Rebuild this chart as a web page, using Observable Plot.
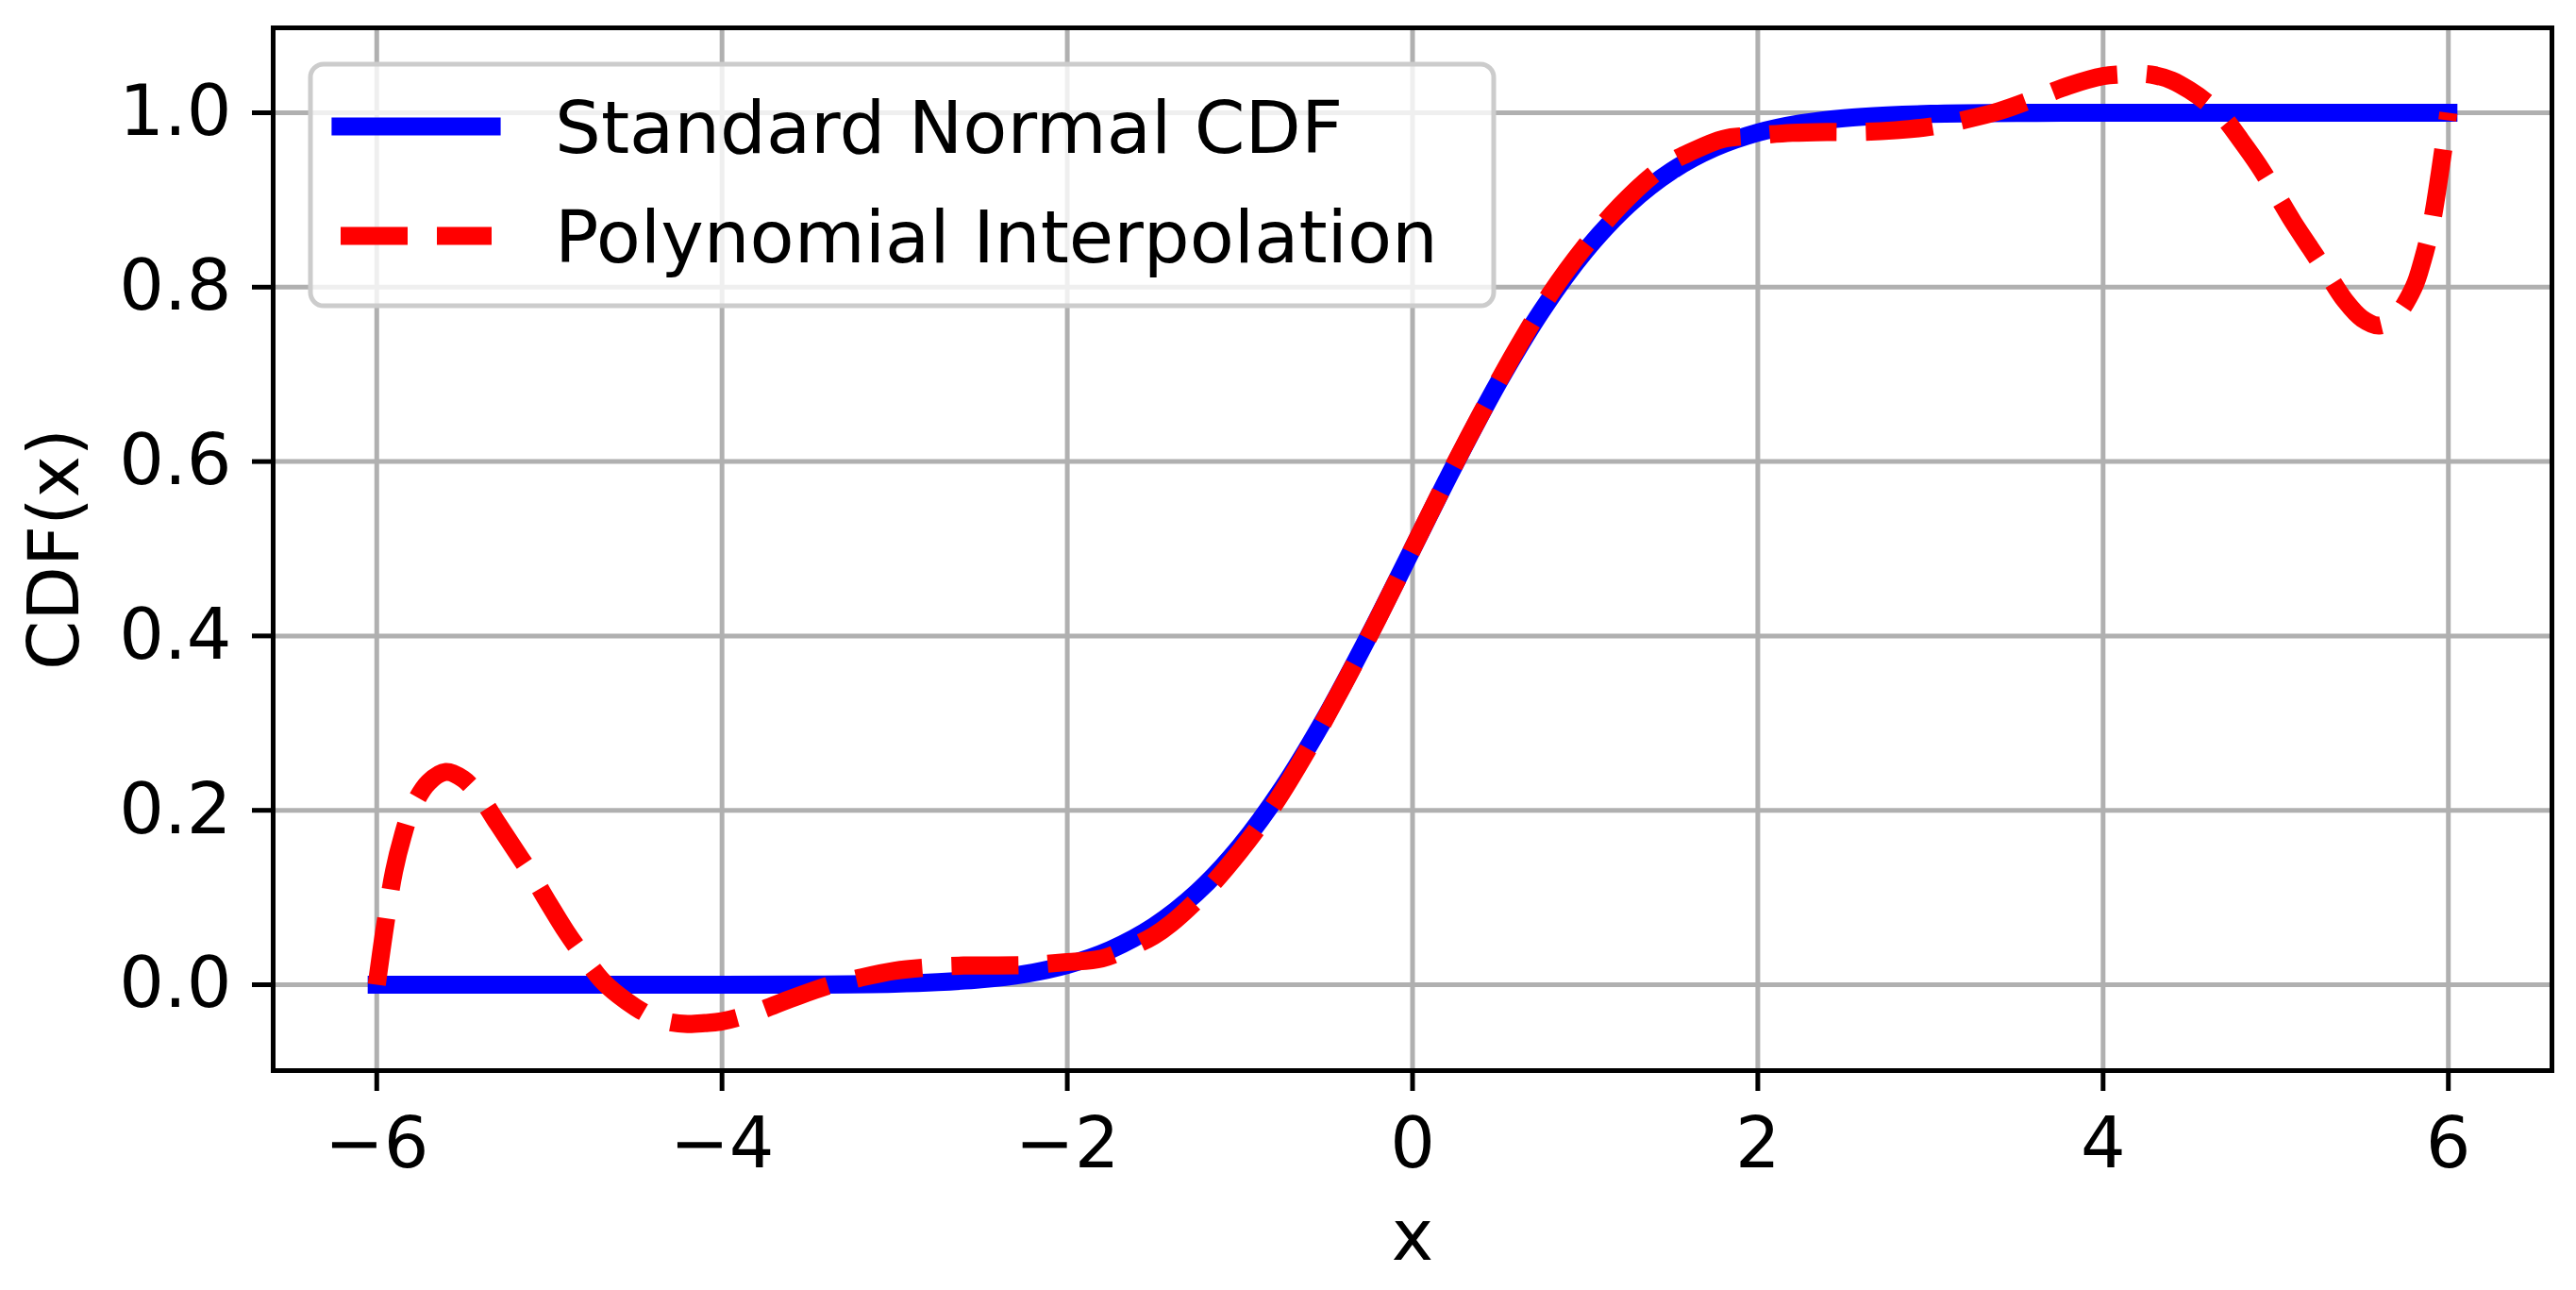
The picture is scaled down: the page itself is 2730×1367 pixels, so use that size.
<!DOCTYPE html>
<html><head><meta charset="utf-8">
<script src="https://cdn.jsdelivr.net/npm/d3@7"></script>
<script src="https://cdn.jsdelivr.net/npm/@observablehq/plot@0.6"></script>
<style>
html,body{margin:0;padding:0;background:#fff;}
#wrap{position:relative;width:2730px;height:1367px;}
#wrap svg{display:block;}
</style></head><body><div id="wrap"></div>
<script>
// Standard normal CDF
const cdfX = [-6, -5.5, -5, -4.5, -4, -3.5, -3, -2.75, -2.5, -2.25, -2, -1.75, -1.5, -1.25, -1, -0.75, -0.5, -0.25, 0, 0.25, 0.5, 0.75, 1, 1.25, 1.5, 1.75, 2, 2.25, 2.5, 2.75, 3, 3.5, 4, 4.5, 5, 5.5, 6];
const cdfY = [0, 0, 0, 0, 0, 0.0002, 0.0013, 0.003, 0.0062, 0.0122, 0.0228, 0.0401, 0.0668, 0.1056, 0.1587, 0.2266, 0.3085, 0.4013, 0.5, 0.5987, 0.6915, 0.7734, 0.8413, 0.8944, 0.9332, 0.9599, 0.9772, 0.9878, 0.9938, 0.997, 0.9987, 0.9998, 1, 1, 1, 1, 1];

// Polynomial interpolation
const polyX = [-6, -5.95, -5.9, -5.85, -5.8, -5.7, -5.6, -5.5, -5.4, -5.3, -5.2, -5.1, -5.0, -4.9, -4.8, -4.7, -4.6, -4.5, -4.4, -4.3, -4.2, -4.1, -4.0, -3.8, -3.6, -3.4, -3.2, -3.0, -2.8, -2.6, -2.4, -2.2, -2.0, -1.8, -1.6, -1.5, -1.4, -1.2, -1.0, -0.8, -0.6, -0.4, -0.2, 0, 0.2, 0.4, 0.6, 0.8, 1.0, 1.2, 1.4, 1.5, 1.6, 1.8, 2.0, 2.2, 2.4, 2.6, 2.8, 3.0, 3.2, 3.4, 3.6, 3.8, 4.0, 4.1, 4.2, 4.3, 4.4, 4.5, 4.6, 4.7, 4.8, 4.9, 5.0, 5.1, 5.2, 5.3, 5.4, 5.5, 5.6, 5.7, 5.8, 5.85, 5.9, 5.95, 6];
const polyY = [0, 0.07, 0.13, 0.17, 0.20, 0.232, 0.244, 0.236, 0.215, 0.185, 0.155, 0.125, 0.092, 0.06, 0.032, 0.006, -0.012, -0.026, -0.037, -0.043, -0.045, -0.044, -0.042, -0.031, -0.016, -0.002, 0.008, 0.016, 0.020, 0.022, 0.022, 0.023, 0.026, 0.030, 0.046, 0.056, 0.070, 0.107, 0.153, 0.207, 0.272, 0.344, 0.420, 0.5, 0.580, 0.656, 0.728, 0.793, 0.847, 0.893, 0.930, 0.944, 0.954, 0.970, 0.974, 0.977, 0.978, 0.978, 0.980, 0.984, 0.992, 1.002, 1.016, 1.031, 1.042, 1.044, 1.045, 1.043, 1.037, 1.026, 1.012, 0.994, 0.968, 0.94, 0.908, 0.875, 0.845, 0.815, 0.785, 0.764, 0.756, 0.768, 0.80, 0.83, 0.87, 0.93, 1.0];

const xTicks = [-6, -4, -2, 0, 2, 4, 6];
const yTicks = [0, 0.2, 0.4, 0.6, 0.8, 1.0];
const seriesNames = ["Standard Normal CDF", "Polynomial Interpolation"];
const seriesColors = ["blue", "red"];

const cdf = cdfX.map((x, i) => ({x, y: cdfY[i]}));
const poly = polyX.map((x, i) => ({x, y: polyY[i]}));

const fmtX = d => d < 0 ? "\u2212" + Math.abs(d) : String(d);
const FONT = "'DejaVu Sans', sans-serif";

const chart = Plot.plot({
  width: 2730, height: 1367,
  marginLeft: 289, marginRight: 26, marginTop: 29, marginBottom: 233,
  style: {fontFamily: FONT, background: "white", overflow: "visible", color: "black"},
  x: {domain: [-6.6, 6.6]},
  y: {domain: [-0.0985, 1.0974]},
  marks: [
    Plot.gridX(xTicks, {stroke: "#b0b0b0", strokeOpacity: 1, strokeWidth: 5}),
    Plot.gridY(yTicks, {stroke: "#b0b0b0", strokeOpacity: 1, strokeWidth: 5}),
    Plot.line(cdf, {x: "x", y: "y", stroke: seriesColors[0], strokeWidth: 19.2, curve: "catmull-rom", strokeLinecap: "square", strokeLinejoin: "round"}),
    Plot.line(poly, {x: "x", y: "y", stroke: seriesColors[1], strokeWidth: 19.2, strokeDasharray: "71,31", strokeLinecap: "butt", strokeLinejoin: "round", curve: "catmull-rom"}),
    Plot.frame({stroke: "black", strokeWidth: 5}),
    Plot.axisX(xTicks, {tickSize: 22, tickPadding: 27, strokeWidth: 5, fontSize: 75, tickFormat: fmtX, label: "x", labelAnchor: "center", labelOffset: 200, labelArrow: "none"}),
    Plot.axisY(yTicks, {tickSize: 22, tickPadding: 22, strokeWidth: 5, fontSize: 75, tickFormat: d3.format(".1f"), label: "CDF(x)", labelAnchor: "center", labelOffset: 260, labelArrow: "none"})
  ]
});
const wrap = document.getElementById("wrap");
wrap.appendChild(chart);

// Legend overlay
const leg = d3.select(wrap).append("svg")
  .attr("width", 2730).attr("height", 1367)
  .style("position", "absolute").style("left", "0px").style("top", "0px")
  .style("font-family", FONT);
leg.append("rect").attr("x", 329).attr("y", 68).attr("width", 1254).attr("height", 256).attr("rx", 14)
  .attr("fill", "white").attr("fill-opacity", 0.8).attr("stroke", "#cccccc").attr("stroke-width", 5);
const rows = [
  {name: seriesNames[0], color: seriesColors[0], cy: 134, base: 162, dash: null, cap: "square"},
  {name: seriesNames[1], color: seriesColors[1], cy: 250, base: 278, dash: "71,31", cap: "butt"}
];
rows.forEach(r => {
  const ln = leg.append("line").attr("x1", 361).attr("x2", 521).attr("y1", r.cy).attr("y2", r.cy)
    .attr("stroke", r.color).attr("stroke-width", 19.2).attr("stroke-linecap", r.cap);
  if (r.dash) ln.attr("stroke-dasharray", r.dash);
  leg.append("text").attr("x", 588).attr("y", r.base).attr("font-size", 77).attr("fill", "black").text(r.name);
});
</script></body></html>
